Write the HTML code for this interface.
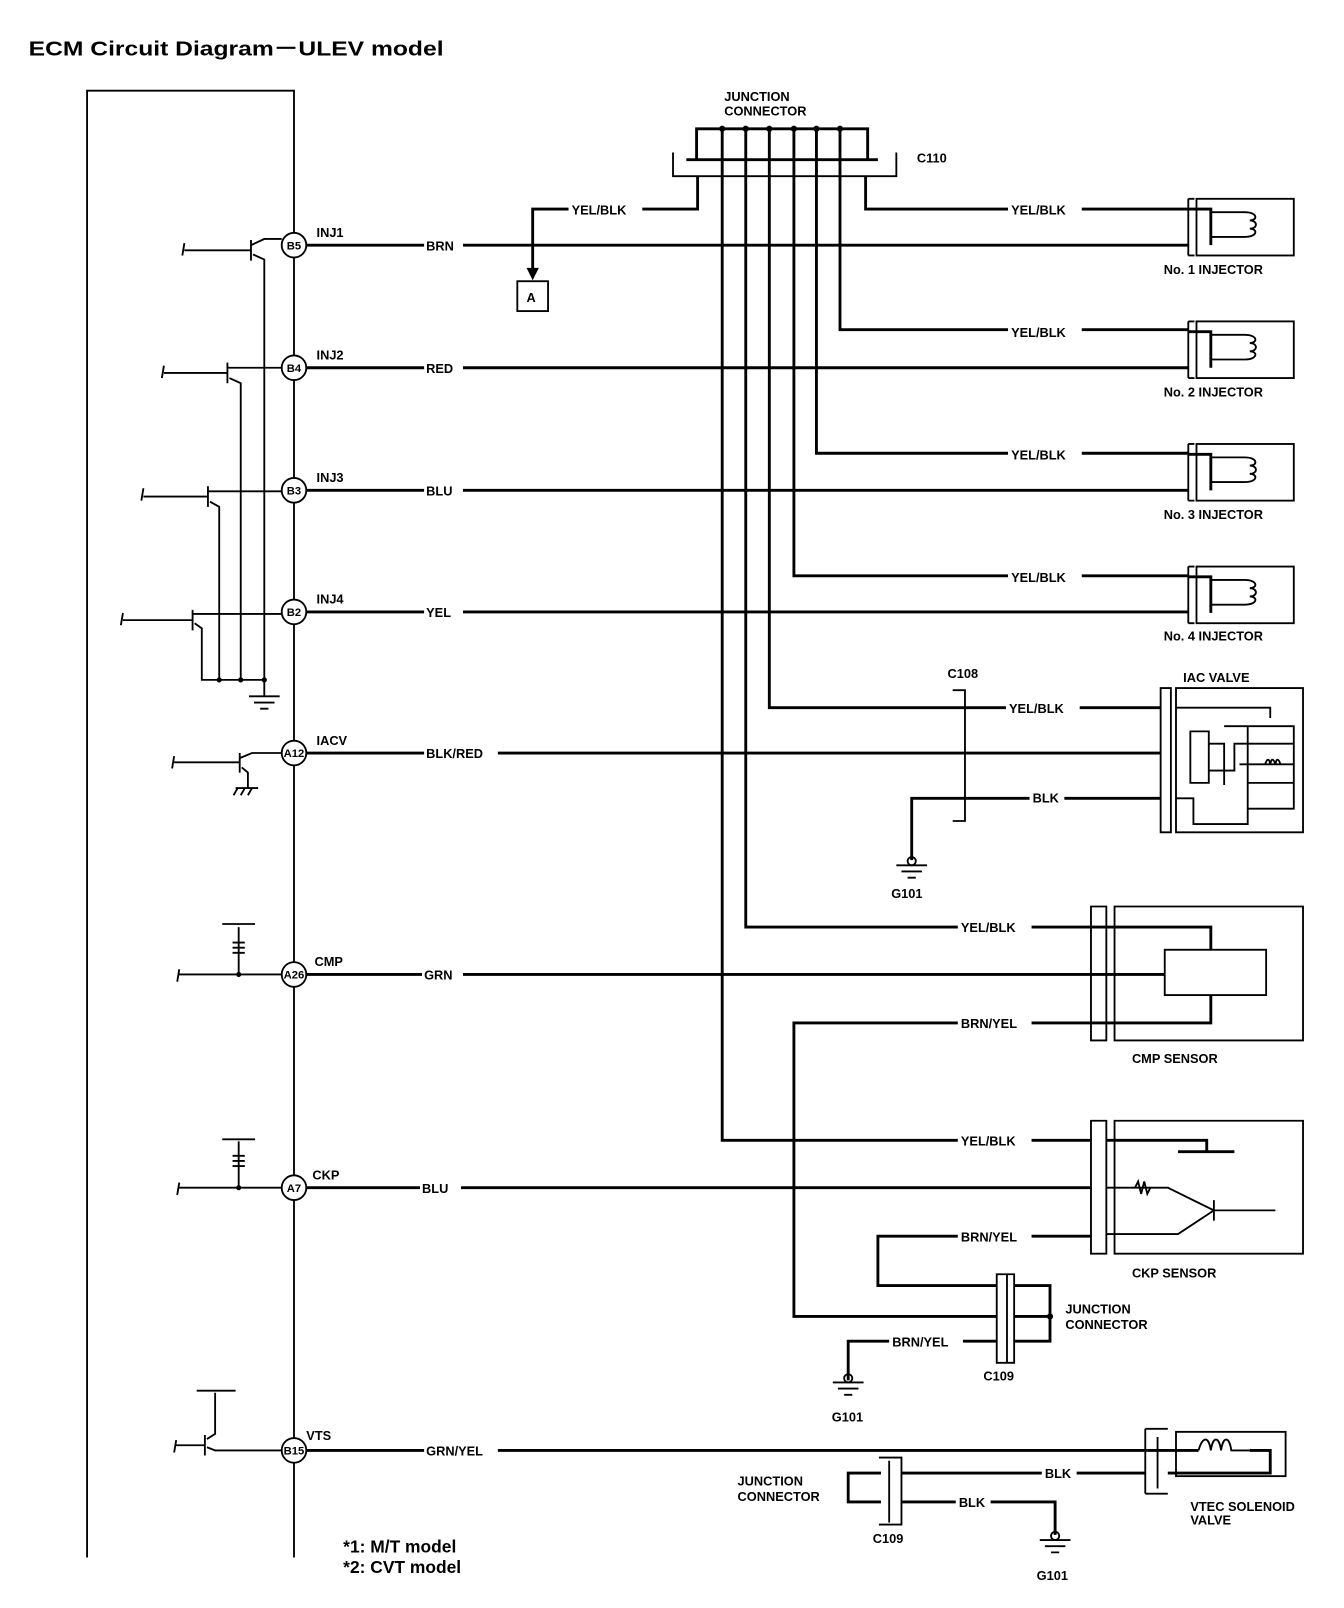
<!DOCTYPE html>
<html><head><meta charset="utf-8"><style>
html,body{margin:0;padding:0;background:#fff}
svg{display:block}
text{font-family:"Liberation Sans",sans-serif;font-weight:bold;fill:#000}
.l{font-size:12.5px}
.w{stroke:#000;stroke-width:2.8;fill:none}
.t{stroke:#000;stroke-width:1.8;fill:none}
</style></head><body>
<svg width="1344" height="1608" viewBox="0 0 1312 1561" preserveAspectRatio="none" xmlns="http://www.w3.org/2000/svg">
<text x="28" y="54" style="font-size:20px" textLength="405" lengthAdjust="spacingAndGlyphs">ECM Circuit Diagram－ULEV model</text>
<!-- ECM box -->
<path class="t" d="M85 1512 V88 H287 V1512"/>
<!-- main wires -->
<g class="w">
<path d="M299 238H1160"/><path d="M299 357H1160"/><path d="M299 476H1160"/><path d="M299 594H1160"/>
<path d="M299 731H1133"/><path d="M299 946H1065"/><path d="M299 1153H1065"/><path d="M299 1408H1120"/>
</g>
<!-- pins -->
<g fill="#fff" stroke="#000" stroke-width="1.8">
<circle cx="287" cy="238" r="12"/><circle cx="287" cy="357" r="12"/><circle cx="287" cy="476" r="12"/><circle cx="287" cy="594" r="12"/>
<circle cx="287" cy="731" r="12"/><circle cx="287" cy="946" r="12"/><circle cx="287" cy="1153" r="12"/><circle cx="287" cy="1408" r="12"/>
</g>
<g style="font-size:11px" text-anchor="middle">
<text x="287" y="242">B5</text><text x="287" y="361">B4</text><text x="287" y="480">B3</text><text x="287" y="598">B2</text>
<text x="287" y="735">A12</text><text x="287" y="950">A26</text><text x="287" y="1157">A7</text><text x="287" y="1412">B15</text>
</g>
<g class="l">
<text x="309" y="230">INJ1</text><text x="309" y="349">INJ2</text><text x="309" y="468">INJ3</text><text x="309" y="586">INJ4</text>
<text x="309" y="723">IACV</text><text x="307" y="938">CMP</text><text x="305" y="1145">CKP</text><text x="299" y="1398">VTS</text>
</g>
<!-- junction connector C110 -->
<path class="w" d="M680 155V125H847V155"/>
<path class="w" d="M670 155H857"/>
<path class="t" d="M657 148V171H875V148"/>
<g class="w">
<path d="M705 125V1107H1065"/><path d="M728 125V900H1065"/><path d="M751 125V687H1133"/>
<path d="M775 125V559H1160"/><path d="M797 125V440H1160"/><path d="M820 125V320H1160"/>
<path d="M681 171V203H520V262"/><path d="M845 171V203H1160"/>
</g>
<g fill="#000"><circle cx="705" cy="125" r="3"/><circle cx="728" cy="125" r="3"/><circle cx="751" cy="125" r="3"/><circle cx="775" cy="125" r="3"/><circle cx="797" cy="125" r="3"/><circle cx="820" cy="125" r="3"/>
<path d="M514 260L526 260L520 272Z"/></g>
<rect x="505" y="273" width="30" height="29" class="t"/>
<text x="514" y="293" class="l">A</text>
<text x="707" y="98" class="l">JUNCTION</text><text x="707" y="112" class="l">CONNECTOR</text>
<text x="895" y="158" class="l">C110</text>
<!-- injectors -->
<g id="inj">
<path class="t" d="M1160 193V248M1166 193H1160M1166 248H1160"/>
<rect x="1168" y="193" width="95" height="55" class="t"/>
<path class="w" d="M1160 203H1182V238"/>
<path class="t" d="M1182 206H1215C1228 206 1228 214 1220 214C1228 214 1228 222 1220 222C1228 222 1228 230 1215 230H1182"/>
</g>
<use href="#inj" y="119"/><use href="#inj" y="238"/><use href="#inj" y="357"/>
<g class="l">
<text x="1136" y="266">No. 1 INJECTOR</text><text x="1136" y="385">No. 2 INJECTOR</text><text x="1136" y="504">No. 3 INJECTOR</text><text x="1136" y="622">No. 4 INJECTOR</text>
</g>
<!-- C108 -->
<path class="t" d="M930 670H942V797H930M942 670V797"/>
<text x="925" y="658" class="l">C108</text>
<path class="w" d="M1133 775H890V835"/>
<g id="gnd"><path class="t" d="M875 840H905M880 846H900M886 852H894"/><circle cx="890" cy="836" r="4" class="t"/></g>
<text x="870" y="872" class="l">G101</text>
<!-- IAC valve -->
<text x="1155" y="662" class="l">IAC VALVE</text>
<path class="t" d="M1133 668H1143V808H1133ZM1148 668H1272V808H1148Z"/>
<path class="t" d="M1148 687H1240V697M1162 710H1180V760H1162Z"/>
<path class="t" d="M1180 722H1195V762M1195 705H1263V785H1218V800H1165V775H1148"/>
<path class="t" d="M1180 748H1205V722H1263M1218 705V785M1210 742H1263M1218 760H1263"/>
<path class="t" d="M1235 742c2-6 4-6 5 0c1-6 3-6 5 0c1-6 3-6 5 0"/>
<!-- CMP sensor -->
<path class="t" d="M1065 880H1080V1010H1065ZM1088 880H1272V1010H1088Z"/>
<path class="w" d="M1065 900H1182V922M1065 993H1182V966M1065 946H1137"/>
<rect x="1137" y="922" width="99" height="44" class="t"/>
<text x="1105" y="1032" class="l">CMP SENSOR</text>
<path class="w" d="M1065 993H775V1278H973"/>
<!-- CKP sensor -->
<path class="t" d="M1065 1088H1080V1217H1065ZM1088 1088H1272V1217H1088Z"/>
<path class="w" d="M1080 1107H1178V1118M1150 1118H1205"/>
<path class="t" d="M1080 1153H1140L1185 1175L1150 1198H1080M1185 1165V1185M1185 1175H1245"/>
<path class="t" d="M1108 1153l3-6 3 12 3-12 3 12 3-6"/>
<path class="w" d="M1065 1200H857V1248H973"/>
<text x="1105" y="1240" class="l">CKP SENSOR</text>
<!-- C109 upper -->
<path class="t" d="M973 1237H990V1323H973ZM983 1237V1323"/>
<path class="w" d="M990 1248H1025V1302H990M990 1278H1025"/>
<circle cx="1025" cy="1278" r="3"/>
<path class="w" d="M973 1302H828V1340"/>
<g transform="translate(-62 502)"><use href="#gnd"/></g>
<text x="812" y="1380" class="l">G101</text>
<text x="960" y="1340" class="l">C109</text>
<text x="1040" y="1275" class="l">JUNCTION</text><text x="1040" y="1290" class="l">CONNECTOR</text>
<!-- VTEC -->
<path class="t" d="M1118 1387H1140M1118 1450H1140M1118 1387V1450M1130 1395V1445"/>
<rect x="1148" y="1390" width="107" height="43" class="t"/>
<path class="w" d="M1120 1408H1170M1140 1430H1240V1408H1220"/>
<path class="t" d="M1170 1408c4-14 10-14 12 0c2-14 8-14 10 0c2-14 8-14 10 0H1220"/>
<text x="1162" y="1467" class="l">VTEC SOLENOID</text><text x="1162" y="1480" class="l">VALVE</text>
<path class="w" d="M880 1430H1118"/>
<path class="t" d="M858 1415H880V1480H858M868 1418V1478"/>
<path class="w" d="M860 1430H828V1458H860"/>
<path class="w" d="M880 1458H1030V1490"/>
<g transform="translate(140 655)"><use href="#gnd"/></g>
<text x="1012" y="1534" class="l">G101</text>
<text x="852" y="1498" class="l">C109</text>
<text x="720" y="1442" class="l">JUNCTION</text><text x="720" y="1457" class="l">CONNECTOR</text>
<!-- left transistors -->
<g class="t">
<path d="M180 236L178 248M180 243H245M245 233V253M245 238L258 232H275M247 247L258 252V660"/>
<path d="M160 355L158 367M160 362H222M222 352V372M222 357H275M224 367L235 372V660"/>
<path d="M140 474L138 486M140 482H203M203 472V492M203 477H275M205 487L214 492V660"/>
<path d="M120 595L118 607M120 602H188M188 592V612M188 596H275M190 605L197 610V660H258M258 660V675M243 676H273M248 682H268M254 688H262"/>
<path d="M170 734L168 746M170 740H234M234 731V750M234 736L246 731H275M236 745L242 750V765M230 765H252M232 765L228 772M239 765L235 772M246 765L242 772"/>
<path d="M175 941L173 953M175 946H275M233 946V900M217 897H249M227 915H239M227 920H239M227 925H239"/>
<path d="M175 1148L173 1160M175 1153H275M233 1153V1108M217 1106H249M227 1122H239M227 1127H239M227 1132H239"/>
<path d="M172 1398L170 1410M172 1403H200M200 1393V1413M202 1397L210 1392V1352M192 1350H230M202 1405L210 1408H275"/>
</g>
<g fill="#000"><circle cx="258" cy="660" r="2.5"/><circle cx="235" cy="660" r="2.5"/><circle cx="214" cy="660" r="2.5"/><circle cx="233" cy="946" r="2.5"/><circle cx="233" cy="1153" r="2.5"/></g>
<!-- wire labels (drawn last) -->
<g class="l">
<g fill="#fff" stroke="none">
<rect x="414" y="230" width="38" height="16"/><rect x="414" y="349" width="38" height="16"/><rect x="414" y="468" width="38" height="16"/><rect x="414" y="586" width="38" height="16"/>
<rect x="414" y="723" width="72" height="16"/><rect x="412" y="938" width="40" height="16"/><rect x="410" y="1145" width="40" height="16"/><rect x="414" y="1400" width="72" height="16"/>
<rect x="555" y="195" width="72" height="16"/><rect x="984" y="195" width="72" height="16"/><rect x="984" y="314" width="72" height="16"/><rect x="984" y="433" width="72" height="16"/><rect x="984" y="552" width="72" height="16"/>
<rect x="982" y="679" width="72" height="16"/><rect x="1005" y="767" width="34" height="16"/>
<rect x="935" y="892" width="72" height="16"/><rect x="935" y="985" width="72" height="16"/>
<rect x="935" y="1099" width="72" height="16"/><rect x="935" y="1192" width="72" height="16"/>
<rect x="868" y="1294" width="72" height="16"/><rect x="1017" y="1422" width="34" height="16"/><rect x="933" y="1450" width="34" height="16"/>
</g>
<text x="416" y="243">BRN</text><text x="416" y="362">RED</text><text x="416" y="481">BLU</text><text x="416" y="599">YEL</text>
<text x="416" y="736">BLK/RED</text><text x="414" y="951">GRN</text><text x="412" y="1158">BLU</text><text x="416" y="1413">GRN/YEL</text>
<text x="558" y="208">YEL/BLK</text>
<text x="987" y="208">YEL/BLK</text><text x="987" y="327">YEL/BLK</text><text x="987" y="446">YEL/BLK</text><text x="987" y="565">YEL/BLK</text>
<text x="985" y="692">YEL/BLK</text><text x="1008" y="779">BLK</text>
<text x="938" y="905">YEL/BLK</text><text x="938" y="998">BRN/YEL</text>
<text x="938" y="1112">YEL/BLK</text><text x="938" y="1205">BRN/YEL</text>
<text x="871" y="1307">BRN/YEL</text><text x="1020" y="1435">BLK</text><text x="936" y="1463">BLK</text>
</g>
<text x="335" y="1507" style="font-size:17px">*1: M/T model</text>
<text x="335" y="1527" style="font-size:17px">*2: CVT model</text>
</svg>
</body></html>
